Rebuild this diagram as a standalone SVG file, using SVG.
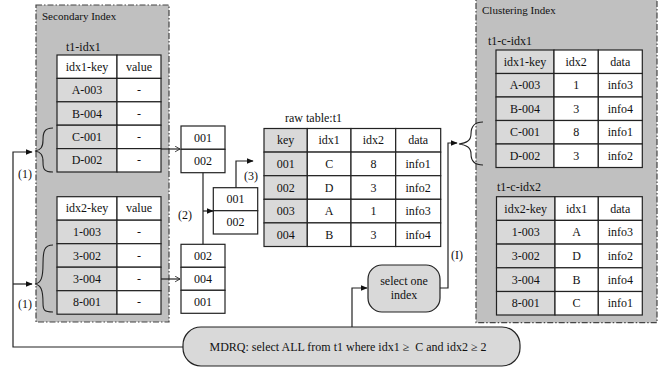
<svg xmlns="http://www.w3.org/2000/svg" width="665" height="370" viewBox="0 0 665 370" font-family="'Liberation Serif', 'Times New Roman', serif">
<defs>
<style>
text{font-family:'Liberation Serif','Times New Roman',serif;font-size:12px;fill:#111}
.c{text-anchor:middle}
.s{font-size:11px}
.panel{fill:#c0c0c0;stroke:#444;stroke-width:1.2;stroke-dasharray:6,2,1.5,2}
.w{fill:#fff;stroke:#222;stroke-width:1.2}
.g{fill:#d9d9d9;stroke:#222;stroke-width:1.2}
.rb{fill:#d9d9d9;stroke:#222;stroke-width:1.2}
.ln{fill:none;stroke:#222;stroke-width:1.2}
.br{fill:none;stroke:#222;stroke-width:1.1}
</style>
<marker id="open" viewBox="0 0 10 10" refX="9" refY="5" markerWidth="7" markerHeight="7" orient="auto" markerUnits="userSpaceOnUse">
<path d="M2,1 L9,5 L2,9" fill="none" stroke="#222" stroke-width="1.2"/>
</marker>
<marker id="fill" viewBox="0 0 10 10" refX="9" refY="5" markerWidth="7" markerHeight="7" orient="auto" markerUnits="userSpaceOnUse">
<path d="M0,1 L10,5 L0,9 z" fill="#111"/>
</marker>
</defs>

<g id="secondary-index">
<rect class="panel" x="36" y="5" width="133" height="317"/>
<text class="s" x="42" y="19.5">Secondary Index</text>
</g>

<g id="t1-idx1">
<text x="66" y="50.5">t1-idx1</text>
<rect class="w" x="57" y="55" width="60" height="23.4"/><rect class="w" x="117" y="55" width="44" height="23.4"/>
<rect class="g" x="57" y="78.4" width="60" height="23.4"/><rect class="w" x="117" y="78.4" width="44" height="23.4"/>
<rect class="g" x="57" y="101.8" width="60" height="23.4"/><rect class="w" x="117" y="101.8" width="44" height="23.4"/>
<rect class="g" x="57" y="125.2" width="60" height="23.4"/><rect class="w" x="117" y="125.2" width="44" height="23.4"/>
<rect class="g" x="57" y="148.6" width="60" height="23.4"/><rect class="w" x="117" y="148.6" width="44" height="23.4"/>
<text class="c" x="87" y="70.7">idx1-key</text><text class="c" x="139" y="70.7">value</text>
<text class="c" x="87" y="94.1">A-003</text><text class="c" x="139" y="94.1">-</text>
<text class="c" x="87" y="117.5">B-004</text><text class="c" x="139" y="117.5">-</text>
<text class="c" x="87" y="140.9">C-001</text><text class="c" x="139" y="140.9">-</text>
<text class="c" x="87" y="164.3">D-002</text><text class="c" x="139" y="164.3">-</text>
</g>

<g id="t1-idx2">
<rect class="w" x="57" y="196.7" width="60" height="23.5"/><rect class="w" x="117" y="196.7" width="44" height="23.5"/>
<rect class="g" x="57" y="220.2" width="60" height="23.5"/><rect class="w" x="117" y="220.2" width="44" height="23.5"/>
<rect class="g" x="57" y="243.7" width="60" height="23.5"/><rect class="w" x="117" y="243.7" width="44" height="23.5"/>
<rect class="g" x="57" y="267.2" width="60" height="23.5"/><rect class="w" x="117" y="267.2" width="44" height="23.5"/>
<rect class="g" x="57" y="290.7" width="60" height="23.5"/><rect class="w" x="117" y="290.7" width="44" height="23.5"/>
<text class="c" x="87" y="212.4">idx2-key</text><text class="c" x="139" y="212.4">value</text>
<text class="c" x="87" y="236">1-003</text><text class="c" x="139" y="236">-</text>
<text class="c" x="87" y="259.5">3-002</text><text class="c" x="139" y="259.5">-</text>
<text class="c" x="87" y="283">3-004</text><text class="c" x="139" y="283">-</text>
<text class="c" x="87" y="306.4">8-001</text><text class="c" x="139" y="306.4">-</text>
</g>

<g id="list-a">
<rect class="w" x="181" y="126" width="44" height="23.3"/><rect class="w" x="181" y="149.3" width="44" height="23.4"/>
<text class="c" x="203" y="141.7">001</text><text class="c" x="203" y="165">002</text>
</g>

<g id="list-b">
<rect class="w" x="181" y="244.3" width="44" height="23"/><rect class="w" x="181" y="267.3" width="44" height="23"/><rect class="w" x="181" y="290.3" width="44" height="23"/>
<text class="c" x="203" y="259.8">002</text><text class="c" x="203" y="282.8">004</text><text class="c" x="203" y="305.8">001</text>
</g>

<g id="list-c">
<rect class="w" x="213.3" y="187.7" width="44.4" height="23"/><rect class="w" x="213.3" y="210.7" width="44.4" height="23.3"/>
<text class="c" x="235.5" y="203.2">001</text><text class="c" x="235.5" y="226.4">002</text>
</g>

<g id="raw-table">
<text x="285" y="122">raw table:t1</text>
<rect class="g" x="264" y="128.5" width="43.3" height="23.6"/><rect class="w" x="307.3" y="128.5" width="43.7" height="23.6"/><rect class="w" x="351" y="128.5" width="44.7" height="23.6"/><rect class="w" x="395.7" y="128.5" width="45" height="23.6"/>
<rect class="g" x="264" y="152.1" width="43.3" height="23.6"/><rect class="w" x="307.3" y="152.1" width="43.7" height="23.6"/><rect class="w" x="351" y="152.1" width="44.7" height="23.6"/><rect class="w" x="395.7" y="152.1" width="45" height="23.6"/>
<rect class="g" x="264" y="175.7" width="43.3" height="23.6"/><rect class="w" x="307.3" y="175.7" width="43.7" height="23.6"/><rect class="w" x="351" y="175.7" width="44.7" height="23.6"/><rect class="w" x="395.7" y="175.7" width="45" height="23.6"/>
<rect class="g" x="264" y="199.3" width="43.3" height="23.6"/><rect class="w" x="307.3" y="199.3" width="43.7" height="23.6"/><rect class="w" x="351" y="199.3" width="44.7" height="23.6"/><rect class="w" x="395.7" y="199.3" width="45" height="23.6"/>
<rect class="g" x="264" y="222.9" width="43.3" height="23.6"/><rect class="w" x="307.3" y="222.9" width="43.7" height="23.6"/><rect class="w" x="351" y="222.9" width="44.7" height="23.6"/><rect class="w" x="395.7" y="222.9" width="45" height="23.6"/>
<text class="c" x="285.7" y="144.3">key</text><text class="c" x="329.2" y="144.3">idx1</text><text class="c" x="373.4" y="144.3">idx2</text><text class="c" x="418.2" y="144.3">data</text>
<text class="c" x="285.7" y="167.9">001</text><text class="c" x="329.2" y="167.9">C</text><text class="c" x="373.4" y="167.9">8</text><text class="c" x="418.2" y="167.9">info1</text>
<text class="c" x="285.7" y="191.5">002</text><text class="c" x="329.2" y="191.5">D</text><text class="c" x="373.4" y="191.5">3</text><text class="c" x="418.2" y="191.5">info2</text>
<text class="c" x="285.7" y="215.1">003</text><text class="c" x="329.2" y="215.1">A</text><text class="c" x="373.4" y="215.1">1</text><text class="c" x="418.2" y="215.1">info3</text>
<text class="c" x="285.7" y="238.7">004</text><text class="c" x="329.2" y="238.7">B</text><text class="c" x="373.4" y="238.7">3</text><text class="c" x="418.2" y="238.7">info4</text>
</g>

<g id="clustering-index">
<rect class="panel" x="476" y="-2" width="181" height="324.7"/>
<text class="s" x="482" y="14">Clustering Index</text>
</g>

<g id="t1-c-idx1">
<text x="488" y="45">t1-c-idx1</text>
<rect class="g" x="496" y="50" width="58" height="23.5"/><rect class="w" x="554" y="50" width="44.3" height="23.5"/><rect class="w" x="598.3" y="50" width="44" height="23.5"/>
<rect class="g" x="496" y="73.5" width="58" height="23.5"/><rect class="w" x="554" y="73.5" width="44.3" height="23.5"/><rect class="w" x="598.3" y="73.5" width="44" height="23.5"/>
<rect class="g" x="496" y="97" width="58" height="23.5"/><rect class="w" x="554" y="97" width="44.3" height="23.5"/><rect class="w" x="598.3" y="97" width="44" height="23.5"/>
<rect class="g" x="496" y="120.5" width="58" height="23.5"/><rect class="w" x="554" y="120.5" width="44.3" height="23.5"/><rect class="w" x="598.3" y="120.5" width="44" height="23.5"/>
<rect class="g" x="496" y="144" width="58" height="23.5"/><rect class="w" x="554" y="144" width="44.3" height="23.5"/><rect class="w" x="598.3" y="144" width="44" height="23.5"/>
<text class="c" x="525" y="65.7">idx1-key</text><text class="c" x="576.2" y="65.7">idx2</text><text class="c" x="620.3" y="65.7">data</text>
<text class="c" x="525" y="89.2">A-003</text><text class="c" x="576.2" y="89.2">1</text><text class="c" x="620.3" y="89.2">info3</text>
<text class="c" x="525" y="112.7">B-004</text><text class="c" x="576.2" y="112.7">3</text><text class="c" x="620.3" y="112.7">info4</text>
<text class="c" x="525" y="136.2">C-001</text><text class="c" x="576.2" y="136.2">8</text><text class="c" x="620.3" y="136.2">info1</text>
<text class="c" x="525" y="159.7">D-002</text><text class="c" x="576.2" y="159.7">3</text><text class="c" x="620.3" y="159.7">info2</text>
</g>

<g id="t1-c-idx2">
<text x="497" y="191">t1-c-idx2</text>
<rect class="g" x="496.5" y="196.7" width="58.5" height="23.7"/><rect class="w" x="555" y="196.7" width="43.3" height="23.7"/><rect class="w" x="598.3" y="196.7" width="44" height="23.7"/>
<rect class="g" x="496.5" y="220.4" width="58.5" height="23.7"/><rect class="w" x="555" y="220.4" width="43.3" height="23.7"/><rect class="w" x="598.3" y="220.4" width="44" height="23.7"/>
<rect class="g" x="496.5" y="244.1" width="58.5" height="23.7"/><rect class="w" x="555" y="244.1" width="43.3" height="23.7"/><rect class="w" x="598.3" y="244.1" width="44" height="23.7"/>
<rect class="g" x="496.5" y="267.8" width="58.5" height="23.7"/><rect class="w" x="555" y="267.8" width="43.3" height="23.7"/><rect class="w" x="598.3" y="267.8" width="44" height="23.7"/>
<rect class="g" x="496.5" y="291.5" width="58.5" height="23.5"/><rect class="w" x="555" y="291.5" width="43.3" height="23.5"/><rect class="w" x="598.3" y="291.5" width="44" height="23.5"/>
<text class="c" x="525.7" y="212.5">idx2-key</text><text class="c" x="576.6" y="212.5">idx1</text><text class="c" x="620.3" y="212.5">data</text>
<text class="c" x="525.7" y="236.2">1-003</text><text class="c" x="576.6" y="236.2">A</text><text class="c" x="620.3" y="236.2">info3</text>
<text class="c" x="525.7" y="259.9">3-002</text><text class="c" x="576.6" y="259.9">D</text><text class="c" x="620.3" y="259.9">info2</text>
<text class="c" x="525.7" y="283.6">3-004</text><text class="c" x="576.6" y="283.6">B</text><text class="c" x="620.3" y="283.6">info4</text>
<text class="c" x="525.7" y="307.2">8-001</text><text class="c" x="576.6" y="307.2">C</text><text class="c" x="620.3" y="307.2">info1</text>
</g>

<g id="select-one-index">
<rect class="rb" x="368" y="265" width="72" height="47" rx="14"/>
<text class="c" x="404" y="285">select one</text>
<text class="c" x="404" y="299">index</text>
</g>

<g id="mdrq">
<rect class="rb" x="183" y="327" width="337" height="39" rx="18"/>
<text class="c" x="348" y="351">MDRQ: select ALL from t1 where idx1 ≥&#160; C and idx2 ≥ 2</text>
</g>

<g id="connectors">
<path class="br" d="M53,128 C44,128 43,133 43,140 C43,147 41,150 35,151 C41,152 43,155 43,162 C43,169 44,172 53,172"/>
<path class="br" d="M53,245 C44,245 43,251 43,264 C43,278 41,283 35,284 C41,285 43,290 43,303 C43,310 44,312 53,312"/>
<path class="br" d="M483,122 C474,122 471,127 471,134 C471,141 466,143 459,144 C466,145 471,147 471,154 C471,161 474,165 483,165"/>
<path class="ln" d="M183,347 L13,347 L13,152 L32,152" marker-end="url(#fill)"/>
<path class="ln" d="M13,284 L32,284" marker-end="url(#fill)"/>
<text x="18" y="178">(1)</text>
<text x="18" y="308">(1)</text>
<path class="ln" d="M161,149 L180,149" marker-end="url(#open)"/>
<path class="ln" d="M161,279 L180,279" marker-end="url(#open)"/>
<path class="ln" d="M203,172.7 L203,244.3"/>
<path class="ln" d="M203,211 L213,211" marker-end="url(#fill)"/>
<text x="178" y="219">(2)</text>
<path class="ln" d="M236,187.7 L236,161 L253,161" marker-end="url(#fill)"/>
<text x="244" y="180">(3)</text>
<path class="ln" d="M352,327 L352,288 L367,288" marker-end="url(#fill)"/>
<path class="ln" d="M440,288 L448,288 L448,143 L457,143" marker-end="url(#fill)"/>
<text x="451" y="259">(I)</text>
</g>
</svg>
